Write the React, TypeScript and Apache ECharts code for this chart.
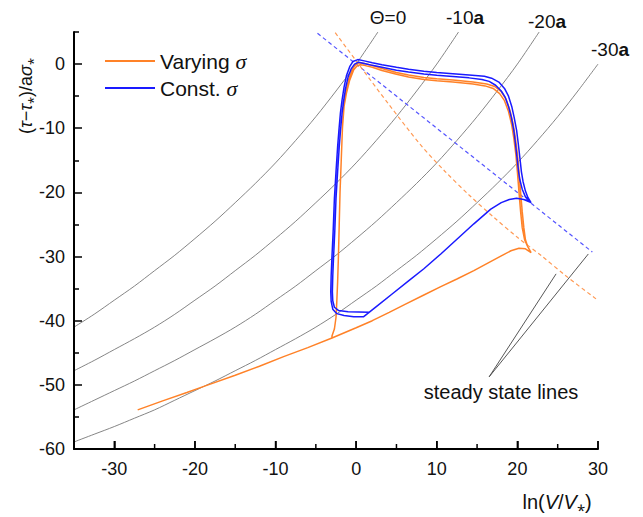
import React, { useEffect, useRef } from 'react';
import * as echarts from 'echarts';

// axis ticks
const xTicks = [-30, -20, -10, 0, 10, 20, 30];
const xMinorTicks = [-25, -15, -5, 5, 15, 25];
const yTicks = [-60, -50, -40, -30, -20, -10, 0];
const yMinorTicks = [-55, -45, -35, -25, -15, -5, 5];

// constant-state curves (gray)
const theta0 = [[-35,-41.0],[-32.5,-39.0],[-30,-36.8],[-27.5,-34.6],[-25,-32.2],[-22.5,-29.8],[-20,-27.2],[-17.5,-24.5],[-15,-21.6],[-12.5,-18.6],[-10,-15.4],[-7.5,-11.9],[-5,-8.2],[-2.5,-4.2],[0,0],[2.7,5]];
const thetaM10 = [[-35,-47.8],[-32.5,-46.2],[-30,-44.5],[-27.5,-42.8],[-25,-41.0],[-22.5,-39.0],[-20,-36.8],[-17.5,-34.6],[-15,-32.2],[-12.5,-29.8],[-10,-27.2],[-7.5,-24.5],[-5,-21.6],[-2.5,-18.6],[0,-15.4],[2.5,-11.9],[5,-8.2],[7.5,-4.2],[10,0],[12.7,5]];
const thetaM20 = [[-35,-53.9],[-32.5,-52.4],[-30,-50.9],[-27.5,-49.4],[-25,-47.8],[-22.5,-46.2],[-20,-44.5],[-17.5,-42.8],[-15,-41.0],[-12.5,-39.0],[-10,-36.8],[-7.5,-34.6],[-5,-32.2],[-2.5,-29.8],[0,-27.2],[2.5,-24.5],[5,-21.6],[7.5,-18.6],[10,-15.4],[12.5,-11.9],[15,-8.2],[17.5,-4.2],[20,0],[22.7,5]];
const thetaM30 = [[-35,-58.9],[-32.5,-57.7],[-30,-56.5],[-27.5,-55.2],[-25,-53.9],[-22.5,-52.4],[-20,-50.9],[-17.5,-49.4],[-15,-47.8],[-12.5,-46.2],[-10,-44.5],[-7.5,-42.8],[-5,-41.0],[-2.5,-39.0],[0,-36.8],[2.5,-34.6],[5,-32.2],[7.5,-29.8],[10,-27.2],[12.5,-24.5],[15,-21.6],[17.5,-18.6],[20,-15.4],[22.5,-11.9],[25,-8.2],[27.5,-4.2],[30,0]];

// steady state lines (dashed)
const steadyConst = [[-4.8,4.8],[29.3,-29.3]];
const steadyVarying = [[-2.6,4.9],[0,0.5],[4,-6.2],[8,-12.6],[11,-16.7],[14,-20.4],[17,-23.8],[20,-27.0],[23,-29.9],[26,-33.0],[29.75,-36.6]];

// Varying sigma trajectory
const orangeStart = [[-27.1,-53.9],[-24,-52.5],[-21,-51.2],[-18.8,-50.2],[-15,-48.5],[-12,-47.1],[-9,-45.6],[-6,-44.2]];
const orangeLower = [[-3,-42.7],[0,-41.1],[2,-40.0],[4.1,-38.7],[6,-37.5],[8.4,-36.0],[10.5,-34.7],[12.5,-33.5],[14.6,-32.2],[16.5,-30.9],[18,-29.9],[19.2,-29.1],[20.2,-28.7],[21,-28.8],[21.7,-29.4]];
const orangeRiseA = [[21.3,-28.5],[21.0,-27.4],[20.8,-25.5],[20.6,-23],[20.4,-20],[20.2,-16.8],[20.0,-14],[19.75,-11.5],[19.5,-9.5],[19.1,-7.3],[18.6,-5.5],[18.0,-4.3],[17.2,-3.5],[16.2,-3.1],[14.5,-2.8],[12,-2.5],[10,-2.3],[8.4,-2.1],[6.5,-1.7],[5,-1.3],[3.2,-0.7],[2,-0.2],[1.0,0.1],[0.4,0.2],[0,0.0],[-0.4,-0.6],[-0.9,-2.3],[-1.3,-4.3],[-1.55,-6.5],[-1.7,-10],[-1.85,-15],[-2.0,-20],[-2.1,-25],[-2.2,-30],[-2.3,-34],[-2.4,-37],[-2.5,-39.5],[-2.7,-41.3],[-3.0,-42.4]];
const orangeRiseB = [[21.3,-28.5],[20.9,-27.4],[20.6,-25.5],[20.4,-23],[20.2,-20],[20.0,-16.8],[19.8,-14],[19.55,-11.5],[19.3,-9.5],[18.9,-7.4],[18.4,-5.7],[17.8,-4.6],[17.0,-3.8],[16.0,-3.4],[14.5,-3.1],[12,-2.8],[10,-2.6],[8.4,-2.4],[6.5,-2.0],[5,-1.6],[3.2,-1.0],[2,-0.5],[1.0,-0.2],[0.5,-0.1],[0.1,-0.3],[-0.3,-0.9],[-0.8,-2.5],[-1.2,-4.5],[-1.5,-6.6],[-1.7,-10],[-1.85,-15],[-2.0,-20],[-2.1,-25],[-2.2,-30],[-2.3,-34],[-2.4,-37],[-2.5,-39.5],[-2.7,-41.3],[-3.0,-42.4]];

// Const sigma trajectory
const blueLower = [[0.9,-39.4],[2.5,-37.8],[4.5,-35.8],[6.5,-33.8],[8.4,-31.9],[10.5,-29.6],[12.5,-27.3],[14.6,-24.9],[16.7,-22.6],[18,-21.6],[19,-21.1],[19.9,-20.9],[20.8,-21.1],[21.7,-21.6]];
const blueOuter = [[21.3,-20.8],[21.0,-19.8],[20.7,-18.3],[20.5,-16.8],[20.3,-14.5],[20.1,-12.3],[19.9,-10.3],[19.6,-8.3],[19.3,-6.6],[18.9,-5.0],[18.4,-3.8],[17.7,-2.8],[16.8,-2.2],[15.9,-1.9],[14,-1.7],[12,-1.5],[10,-1.3],[8.4,-1.1],[6.5,-0.8],[5,-0.5],[3.2,-0.1],[2,0.2],[1,0.5],[0.2,0.7],[-0.4,0.4],[-0.8,-0.4],[-1.2,-1.8],[-1.5,-3.6],[-1.75,-5.6],[-1.95,-7.6],[-2.15,-10.5],[-2.3,-12.9],[-2.5,-16.8],[-2.7,-21],[-2.85,-26],[-3.0,-30],[-3.1,-33],[-3.15,-35.5],[-3.1,-37],[-2.9,-38.2],[-2.4,-38.9],[-1.5,-39.2],[-0.3,-39.4]];
const blueInner = [[21.0,-20.7],[20.6,-19.5],[20.3,-18],[20.15,-16.8],[19.95,-14.5],[19.75,-12.3],[19.55,-10.3],[19.25,-8.3],[18.9,-6.6],[18.5,-5.2],[18.0,-4.2],[17.3,-3.3],[16.5,-2.7],[15.6,-2.4],[14,-2.15],[12,-1.95],[10,-1.75],[8.4,-1.55],[6.5,-1.25],[5,-0.95],[3.2,-0.5],[2,-0.2],[1,0.1],[0.3,0.3],[-0.2,0.0],[-0.6,-0.7],[-1.0,-2.0],[-1.3,-3.7],[-1.55,-5.7],[-1.75,-7.7],[-1.95,-10.5],[-2.1,-12.9],[-2.3,-16.8],[-2.5,-21],[-2.65,-26],[-2.8,-30],[-2.9,-33],[-2.95,-35.5],[-2.9,-36.9],[-2.7,-37.9],[-2.2,-38.4],[-1,-38.6],[0.3,-38.65],[1.6,-38.7]];

// pointer lines for "steady state lines" label
const pointer1 = [[16.5,-48.75],[24.8,-32.7]];
const pointer2 = [[16.5,-48.75],[28.8,-29.6]];

const FONT = '"Liberation Sans", Arial, sans-serif';

export default function App() {
  const ref = useRef<HTMLDivElement>(null);
  useEffect(() => {
    document.body.style.margin = '0';
    const chart = echarts.init(ref.current!, null, { renderer: 'svg' });
    const gray = (name: string, data: number[][]) => ({
      name, type: 'line', data, symbol: 'none', smooth: 0.3, silent: true, z: 1,
      lineStyle: { color: '#777777', width: 0.9 },
    });
    const thin = (name: string, data: number[][]) => ({
      name, type: 'line', data, symbol: 'none', silent: true, z: 1,
      lineStyle: { color: '#444', width: 0.9 },
    });
    const orange = [...orangeStart, ...orangeLower, ...orangeRiseA, ...orangeLower, ...orangeRiseB];
    const blue = [...blueLower, ...blueOuter, ...blueLower, ...blueInner];
    const sub = { fontSize: 15, fontFamily: FONT, fill: '#111' };
    const tickLine = { color: '#000', width: 1.5 };
    const rich19 = { n: { fontSize: 19, fontFamily: FONT, fill: '#111' }, b: { fontSize: 19, fontFamily: FONT, fontWeight: 'bold', fill: '#111' } };
    const texts: any[] = [
      { type: 'text', x: 388, y: 17, style: { text: 'Θ=0', fontSize: 19, fontFamily: FONT, fill: '#111', align: 'center', verticalAlign: 'middle' } },
      { type: 'text', x: 465, y: 17, style: { text: '{n|-10}{b|a}', fontSize: 19, fontFamily: FONT, fill: '#111', align: 'center', verticalAlign: 'middle', rich: rich19 } },
      { type: 'text', x: 547, y: 21, style: { text: '{n|-20}{b|a}', fontSize: 19, fontFamily: FONT, fill: '#111', align: 'center', verticalAlign: 'middle', rich: rich19 } },
      { type: 'text', x: 610, y: 49, style: { text: '{n|-30}{b|a}', fontSize: 19, fontFamily: FONT, fill: '#111', align: 'center', verticalAlign: 'middle', rich: rich19 } },
      { type: 'text', x: 501, y: 392, style: { text: 'steady state lines', fontSize: 20, fontFamily: FONT, fill: '#111', align: 'center', verticalAlign: 'middle' } },
      { type: 'text', x: 557, y: 502, style: { text: '{n|ln(}{i|V}{n|/}{i|V}{s|⁎}{n|)}', fontSize: 20, fontFamily: FONT, fill: '#111', align: 'center', verticalAlign: 'middle',
        rich: { n: { fontSize: 20, fontFamily: FONT, fill: '#111' }, i: { fontSize: 20, fontFamily: FONT, fontStyle: 'italic', fill: '#111' }, s: sub } } },
      { type: 'text', x: 26, y: 96, rotation: Math.PI / 2, style: { text: '{n|(}{i|τ}{n|−}{i|τ}{s|⁎}{n|)/a}{i|σ}{s|⁎}', fontSize: 18, fontFamily: FONT, fill: '#111', align: 'center', verticalAlign: 'middle',
        rich: { n: { fontSize: 18, fontFamily: FONT, fill: '#111' }, i: { fontSize: 18, fontFamily: FONT, fontStyle: 'italic', fill: '#111' }, s: { fontSize: 13, fontFamily: FONT, fill: '#111' } } } },
    ];
    chart.setOption({
      animation: false,
      grid: { left: 74, right: 45, top: 32, bottom: 68 },
      legend: {
        data: ['Varying σ', 'Const. σ'], left: 100, top: 44, orient: 'vertical', icon: 'rect',
        itemWidth: 50, itemHeight: 2, itemGap: 3,
        formatter: (n: string) => (n.startsWith('Varying') ? '{t|Varying }{g|σ}' : '{t|Const. }{g|σ}'),
        textStyle: {
          fontSize: 21, fontFamily: FONT, color: '#111', lineHeight: 24,
          rich: {
            t: { fontSize: 21, fontFamily: FONT, color: '#111', lineHeight: 24 },
            g: { fontSize: 22, fontFamily: '"Liberation Serif", serif', fontStyle: 'italic', color: '#111', lineHeight: 24 },
          },
        },
      },
      xAxis: [
        {
          type: 'value', min: -35, max: 30, position: 'bottom', splitLine: { show: false },
          axisLine: { show: true, onZero: false, lineStyle: { color: '#000', width: 2 } },
          axisTick: { show: true, inside: true, length: 8, customValues: xTicks, lineStyle: tickLine },
          axisLabel: { customValues: xTicks, margin: 11, fontSize: 18, color: '#111', fontFamily: FONT },
          z: 5,
        },
      ],
      yAxis: [
        {
          type: 'value', min: -60, max: 5, position: 'left', splitLine: { show: false },
          axisLine: { show: true, onZero: false, lineStyle: { color: '#000', width: 2 } },
          axisTick: { show: true, inside: true, length: 8, customValues: yTicks, lineStyle: tickLine },
          axisLabel: { customValues: yTicks, margin: 9, fontSize: 18, color: '#111', fontFamily: FONT },
          z: 5,
        },
        {
          type: 'value', min: -60, max: 5, position: 'left', offset: 0, splitLine: { show: false },
          axisLine: { show: false, onZero: false },
          axisTick: { show: true, inside: true, length: 5, customValues: yMinorTicks, lineStyle: tickLine },
          axisLabel: { show: false },
          z: 5,
        },
      ],
      series: [
        gray('Θ=0', theta0),
        gray('-10a', thetaM10),
        gray('-20a', thetaM20),
        gray('-30a', thetaM30),
        thin('pointer1', pointer1),
        thin('pointer2', pointer2),
        {
          name: 'steady const', type: 'line', data: steadyConst, symbol: 'none', silent: true, z: 2,
          lineStyle: { color: '#5555ff', width: 1.2, type: [4, 3] },
        },
        {
          name: 'steady varying', type: 'line', data: steadyVarying, symbol: 'none', silent: true, z: 2, smooth: 0.3,
          lineStyle: { color: '#ff9a55', width: 1.2, type: [4, 3] },
        },
        {
          name: 'Varying σ', type: 'line', data: orange, symbol: 'none', z: 3,
          lineStyle: { color: '#ff8228', width: 1.5 }, itemStyle: { color: '#ff8228' },
        },
        {
          name: 'Const. σ', type: 'line', data: blue, symbol: 'none', z: 4,
          lineStyle: { color: '#1a1aff', width: 1.5 }, itemStyle: { color: '#1a1aff' },
        },
      ],
      graphic: texts,
    });
    // x-axis tick marks placed through the axis scale
    const yBase = chart.convertToPixel({ yAxisIndex: 0 }, -60) as number;
    const tickMarks = [
      ...xTicks.map((v) => ({ v, len: 8 })),
      ...xMinorTicks.map((v) => ({ v, len: 5 })),
    ].map(({ v, len }) => {
      const px = chart.convertToPixel({ xAxisIndex: 0 }, v) as number;
      return { type: 'line', silent: true, z: 6, shape: { x1: px, y1: yBase, x2: px, y2: yBase - len }, style: { stroke: '#000', lineWidth: 1.5 } };
    });
    chart.setOption({ graphic: [...texts, ...tickMarks] });
    return () => chart.dispose();
  }, []);
  return <div ref={ref} style={{ width: 643, height: 517 }} />;
}
